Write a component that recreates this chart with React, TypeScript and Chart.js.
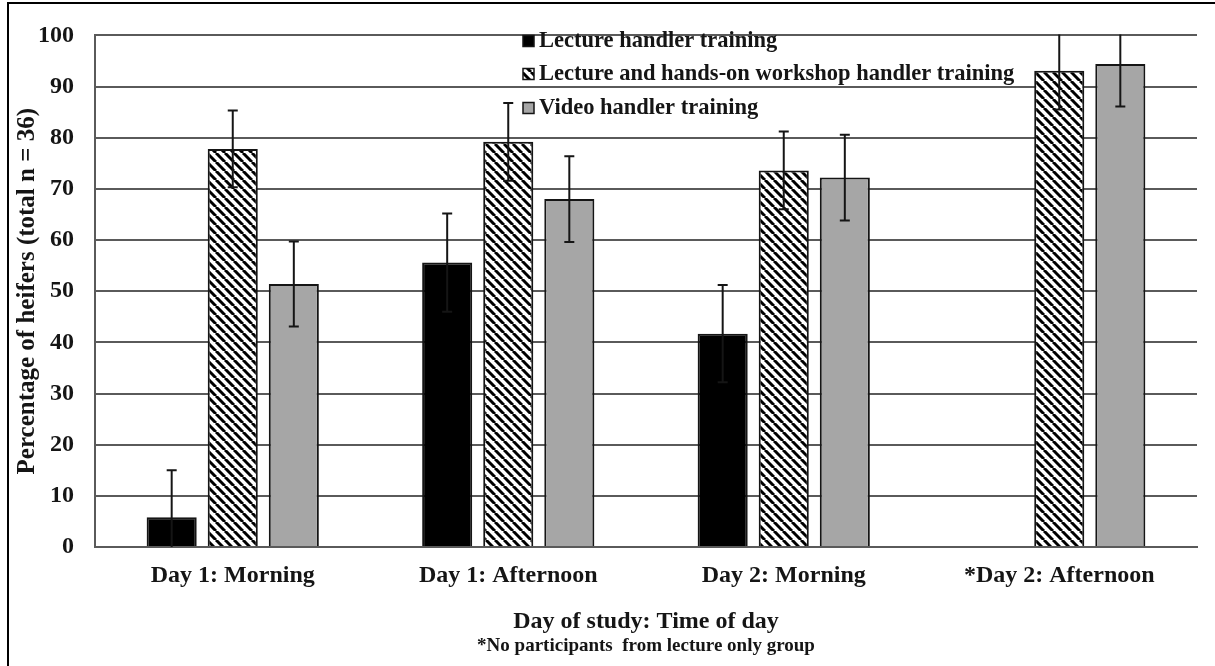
import React, { useEffect, useRef } from "react";
import { Chart, registerables } from "chart.js";

Chart.register(...registerables);

const categories = ["Day 1: Morning", "Day 1: Afternoon", "Day 2: Morning", "*Day 2: Afternoon"];
const seriesNames = [
  "Lecture handler training",
  "Lecture and hands-on workshop handler training",
  "Video handler training",
];
const lectureValues = [5.8, 55.6, 41.7, null];
const lectureErrors = [9.2, 9.6, 9.5, null];
const workshopValues = [77.8, 79.2, 73.6, 93.1];
const workshopErrors = [7.5, 7.6, 7.6, 7.6];
const videoValues = [51.4, 68.0, 72.2, 94.4];
const videoErrors = [8.3, 8.4, 8.4, 8.3];
const yMin = 0;
const yMax = 100;
const yStep = 10;
const yTitle = "Percentage of heifers (total n = 36)";
const xTitle = "Day of study: Time of day";
const footnote = "*No participants  from lecture only group";

const FONT = "'Liberation Serif', 'Times New Roman', serif";
const GRID = "#5a5a5a";
const INK = "#151515";

function makeHatch(ctx: CanvasRenderingContext2D) {
  const s = 9;
  const c = document.createElement("canvas");
  c.width = s;
  c.height = s;
  const g = c.getContext("2d")!;
  g.fillStyle = "#ffffff";
  g.fillRect(0, 0, s, s);
  g.strokeStyle = "#000000";
  g.lineWidth = 3;
  for (const k of [-s, 0, s]) {
    g.beginPath();
    g.moveTo(k, 0);
    g.lineTo(k + s, s);
    g.stroke();
  }
  return ctx.createPattern(c, "repeat")!;
}

const framePlugin = {
  id: "frame",
  beforeDraw(chart: any) {
    const { ctx, width, height } = chart;
    ctx.save();
    ctx.fillStyle = "#ffffff";
    ctx.fillRect(0, 0, width, height);
    ctx.strokeStyle = "#000";
    ctx.lineWidth = 2;
    ctx.beginPath();
    ctx.moveTo(8, height);
    ctx.lineTo(8, 3);
    ctx.lineTo(width, 3);
    ctx.stroke();
    ctx.restore();
  },
};

const errorBarPlugin = {
  id: "errorBars",
  afterDatasetsDraw(chart: any) {
    const { ctx, chartArea } = chart;
    const y = chart.scales.y;
    ctx.save();
    ctx.beginPath();
    ctx.rect(chartArea.left, chartArea.top - 1, chartArea.right - chartArea.left, chartArea.bottom - chartArea.top + 1);
    ctx.clip();
    ctx.strokeStyle = INK;
    ctx.lineWidth = 2;
    chart.data.datasets.forEach((ds: any, i: number) => {
      const meta = chart.getDatasetMeta(i);
      meta.data.forEach((el: any, j: number) => {
        const v = ds.data[j];
        const e = ds.errors[j];
        if (v == null || e == null) return;
        const x = el.x;
        const yt = y.getPixelForValue(v + e);
        const yb = y.getPixelForValue(v - e);
        ctx.beginPath();
        ctx.moveTo(x, yt);
        ctx.lineTo(x, yb);
        ctx.moveTo(x - 5, yt);
        ctx.lineTo(x + 5, yt);
        ctx.moveTo(x - 5, yb);
        ctx.lineTo(x + 5, yb);
        ctx.stroke();
      });
    });
    ctx.restore();
  },
};

const legendPlugin = {
  id: "customLegend",
  afterDraw(chart: any) {
    const { ctx } = chart;
    const x0 = 523;
    const rows = [41, 74, 108];
    const sz = 11;
    ctx.save();
    ctx.font = `bold 22.5px ${FONT}`;
    ctx.textBaseline = "middle";
    ctx.textAlign = "left";
    chart.data.datasets.forEach((ds: any, i: number) => {
      const cy = rows[i];
      ctx.fillStyle = ds.backgroundColor;
      ctx.fillRect(x0, cy - sz / 2, sz, sz);
      ctx.strokeStyle = INK;
      ctx.lineWidth = 1.5;
      ctx.strokeRect(x0, cy - sz / 2, sz, sz);
      ctx.fillStyle = INK;
      ctx.fillText(seriesNames[i], x0 + sz + 5, cy);
    });
    ctx.restore();
  },
};

const titlePlugin = {
  id: "bottomTexts",
  afterDraw(chart: any) {
    const { ctx, chartArea } = chart;
    const cx = (chartArea.left + chartArea.right) / 2;
    ctx.save();
    ctx.fillStyle = INK;
    ctx.textAlign = "center";
    ctx.textBaseline = "middle";
    ctx.font = `bold 24px ${FONT}`;
    ctx.fillText(xTitle, cx, 622);
    ctx.font = `bold 19px ${FONT}`;
    ctx.fillText(footnote, cx, 646);
    ctx.restore();
  },
};

export default function App() {
  const ref = useRef<HTMLCanvasElement | null>(null);

  useEffect(() => {
    const canvas = ref.current!;
    const ctx = canvas.getContext("2d")!;
    const hatch = makeHatch(ctx);
    const chart = new Chart(canvas, {
      type: "bar",
      data: {
        labels: categories,
        datasets: [
          {
            label: seriesNames[0],
            data: lectureValues,
            errors: lectureErrors,
            backgroundColor: "#000000",
            borderColor: INK,
            borderWidth: 2,
          } as any,
          {
            label: seriesNames[1],
            data: workshopValues,
            errors: workshopErrors,
            backgroundColor: hatch,
            borderColor: INK,
            borderWidth: 2,
          } as any,
          {
            label: seriesNames[2],
            data: videoValues,
            errors: videoErrors,
            backgroundColor: "#a6a6a6",
            borderColor: INK,
            borderWidth: 2,
          } as any,
        ],
      },
      options: {
        responsive: false,
        animation: false,
        events: [],
        datasets: {
          bar: { categoryPercentage: 0.665, barPercentage: 0.82 },
        },
        layout: { padding: { left: 10, right: 18, top: 30, bottom: 0 } },
        plugins: {
          legend: { display: false },
          tooltip: { enabled: false },
        },
        scales: {
          x: {
            grid: { display: false, drawTicks: false },
            border: { display: true, color: GRID, width: 2 },
            ticks: {
              color: INK,
              padding: 14,
              font: { family: FONT, size: 24, weight: "bold" },
            },
            afterFit: (s: any) => {
              s.height = 119;
            },
          },
          y: {
            min: yMin,
            max: yMax,
            grid: { color: GRID, lineWidth: 2, drawTicks: false },
            border: { display: true, color: GRID, width: 2 },
            ticks: {
              stepSize: yStep,
              color: INK,
              padding: 21,
              font: { family: FONT, size: 24, weight: "bold" },
            },
            title: {
              display: true,
              text: yTitle,
              color: INK,
              padding: { top: 3, bottom: 0 },
              font: { family: FONT, size: 25, weight: "bold" },
            },
            afterFit: (s: any) => {
              s.width = 85;
            },
          },
        },
      } as any,
      plugins: [framePlugin, errorBarPlugin, legendPlugin, titlePlugin],
    });
    return () => chart.destroy();
  }, []);

  return (
    <div style={{ position: "fixed", left: 0, top: 0, width: 1215, height: 666, background: "#fff" }}>
      <canvas ref={ref} width={1215} height={666} style={{ display: "block", width: 1215, height: 666 }} />
    </div>
  );
}
